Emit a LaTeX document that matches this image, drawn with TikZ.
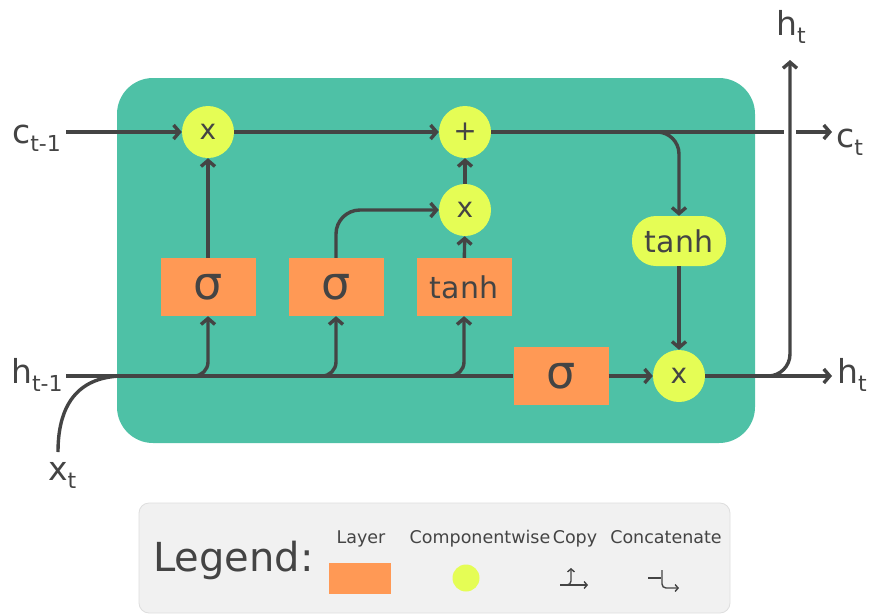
\documentclass[tikz,border=0pt]{standalone}
\usepackage{fontspec}
\setmainfont{DejaVu Sans}
\usetikzlibrary{arrows.meta}
\definecolor{ink}{RGB}{68,68,68}
\definecolor{cellteal}{RGB}{78,193,166}
\definecolor{layerorange}{RGB}{255,153,85}
\definecolor{opyellow}{RGB}{229,253,85}
\definecolor{legendbg}{RGB}{241,241,241}
\definecolor{legendline}{RGB}{222,222,222}
\newcommand\myfs[1]{\fontsize{#1}{#1}\selectfont}
\newcommand\sublbl[2]{\myfs{33}#1\raisebox{-0.27em}{\myfs{22}#2}}
\tikzset{
  flow/.style={draw=ink, line width=3.4pt, -{Straight Barb[length=6pt,width=14pt]}},
  plainflow/.style={draw=ink, line width=3.4pt},
  op/.style={circle, fill=opyellow, minimum size=52pt, inner sep=0pt, text=ink, font=\myfs{28}},
  layer/.style={rectangle, fill=layerorange, minimum width=95pt, minimum height=58pt, inner sep=0pt, text=ink},
  squash/.style={rectangle, rounded corners=24pt, fill=opyellow, minimum width=94pt, minimum height=50pt, inner sep=0pt, text=ink, font=\myfs{30}},
  io/.style={anchor=base west, inner sep=0pt, text=ink},
  legtext/.style={text=ink, font=\myfs{17.5}, inner sep=0pt, anchor=base},
  icon/.style={draw=ink, line width=1.4pt},
  iconarrow/.style={icon, -{Straight Barb[length=3pt,width=7pt]}},
}
\begin{document}
\begin{tikzpicture}[x=1pt,y=-1pt]
\useasboundingbox (0,0) rectangle (871,614);

% cell body
\fill[cellteal, rounded corners=36pt] (117,78) rectangle (755,443);

% gates and pointwise operations
\node[op] (mulf) at (208,132) {x};
\node[op] (add) at (465,132) {+};
\node[op] (muli) at (465,210) {x};
\node[op] (mulo) at (679,376) {x};
\node[squash] (tanhc) at (679,241) {tanh};
\node[layer, font=\myfs{46}] (sf) at (208,287) {σ};
\node[layer, font=\myfs{46}] (si) at (336,287) {σ};
\node[layer, font=\myfs{30}] (tg) at (464,287) {tanh};
\node[layer, font=\myfs{46}, minimum height=58pt] (so) at (561,376) {σ};

% inputs and outputs
\node[io] (cinlbl) at (12,143) {\sublbl{c}{t-1}};
\node[io] (hinlbl) at (11,383) {\sublbl{h}{t-1}};
\node[io] (xinlbl) at (48,480) {\sublbl{x}{t}};
\node[io] (coutlbl) at (836,147) {\sublbl{c}{t}};
\node[io] (houtlbl) at (837,383) {\sublbl{h}{t}};
\node[io] (htoplbl) at (776,35) {\sublbl{h}{t}};

\coordinate (cin) at (66,132);
\coordinate (hin) at (66,376);
\coordinate (xin) at (58,452);
\coordinate (xjoin) at (124,376);
\coordinate (cout) at (832,132);
\coordinate (hout) at (832,376);
\coordinate (htop) at (790,60);
\coordinate (b1) at (178,376);
\coordinate (b2) at (306,376);
\coordinate (b3) at (434,376);
\coordinate (b4) at (760,376);
\coordinate (gapa) at (790,124);
\coordinate (gapb) at (790,140);

% cell state
\draw[flow] (cin) -- (mulf);
\draw[flow] (mulf) -- (add);
\draw[flow] (add) -- (cout);
\draw[flow, rounded corners=22pt] (add.east) -| (tanhc.north);

% hidden state and input
\draw[plainflow] (hin) -- (so.west);
\draw[plainflow] (xin) .. controls (58,400) and (82,376) .. (xjoin);
\draw[flow, rounded corners=14pt] (b1) -| (sf.south);
\draw[flow, rounded corners=14pt] (b2) -| (si.south);
\draw[flow, rounded corners=14pt] (b3) -| (tg.south);

% gate outputs
\draw[flow] (sf) -- (mulf);
\draw[flow, rounded corners=24pt] (si.north) |- (muli.west);
\draw[flow] (tg) -- (muli);
\draw[flow] (muli) -- (add);
\draw[flow] (so) -- (mulo);
\draw[flow] (tanhc) -- (mulo);
\draw[flow] (mulo) -- (hout);
\draw[white, line width=12pt] (gapa) -- (gapb);
\draw[flow, rounded corners=22pt] (b4) -| (htop);

% legend
\draw[legendline, fill=legendbg, line width=0.8pt, rounded corners=10pt] (139,503) rectangle (730,613);
\node[text=ink, font=\myfs{40}, anchor=base west, inner sep=0pt] (legtitle) at (153,571) {Legend:};
\node[legtext] (leglayer) at (361,543) {Layer};
\node[legtext] (legcomp) at (480,543) {Componentwise};
\node[legtext] (legcopy) at (575,543) {Copy};
\node[legtext] (legcat) at (666,543) {Concatenate};
\node[fill=layerorange, minimum width=62pt, minimum height=31pt, inner sep=0pt] (legbox) at (360,578) {};
\node[circle, fill=opyellow, minimum size=27pt, inner sep=0pt] (legdot) at (466,578) {};
\draw[iconarrow] (560,585) -- (588,585);
\draw[iconarrow, rounded corners=4pt] (561,585) -| (571,568);
\draw[icon] (648,578) -- (661,578);
\draw[iconarrow, rounded corners=4pt] (662,570) |- (679,588);
\end{tikzpicture}
\end{document}
